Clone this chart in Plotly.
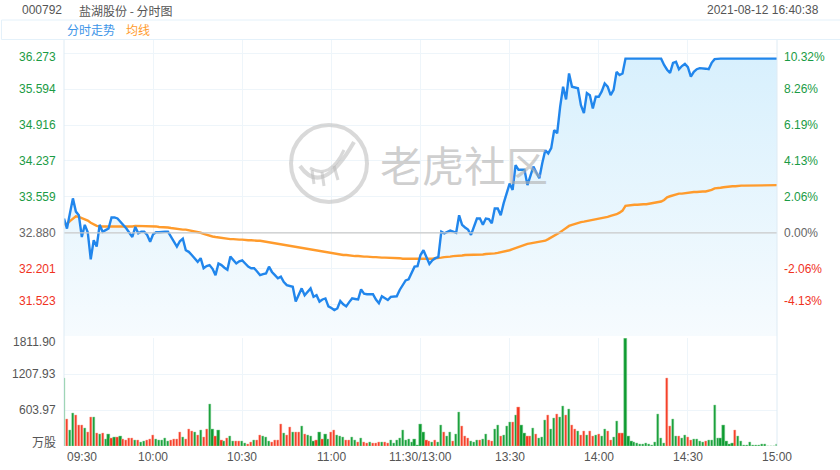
import plotly.graph_objects as go

# ---------------- data ----------------
prev_close = 32.880
price_ticks = [36.273, 35.594, 34.916, 34.237, 33.559, 32.880, 32.201, 31.523]
price_tick_text = ["36.273", "35.594", "34.916", "34.237", "33.559", "32.880", "32.201", "31.523"]
pct_tick_text = ["10.32%", "8.26%", "6.19%", "4.13%", "2.06%", "0.00%", "-2.06%", "-4.13%"]
vol_ticks = [1811.90, 1207.93, 603.97]
vol_tick_text = ["1811.90", "1207.93", "603.97"]
vol_unit = "万股"
time_pos = [0, 30, 60, 90, 120, 150, 180, 210, 240]
time_labels = ["09:30", "10:00", "10:30", "11:00", "11:30/13:00", "13:30", "14:00", "14:30", "15:00"]

price = [
    33.15, 32.96, 33.25, 33.53, 33.28, 33.21, 32.80, 33.03, 32.89, 32.38,
    32.74, 32.62, 33.03, 32.90, 32.93, 32.96, 33.17, 33.17, 33.15, 33.09,
    33.04, 32.96, 32.88, 32.80, 32.99, 32.87, 32.90, 32.90, 32.84, 32.71,
    32.85, 32.89, 32.89, 32.90, 32.90, 32.90, 32.80, 32.72, 32.62, 32.72,
    32.77, 32.55, 32.52, 32.46, 32.40, 32.33, 32.40, 32.21, 32.25, 32.27,
    32.20, 32.08, 32.30, 32.27, 32.22, 32.18, 32.43, 32.36, 32.30, 32.34,
    32.36, 32.30, 32.24, 32.21, 32.21, 32.15, 32.08, 32.10, 32.11, 32.24,
    32.14, 32.08, 32.02, 32.05, 31.95, 31.89, 31.88, 31.86, 31.58, 31.70,
    31.83, 31.70, 31.76, 31.83, 31.67, 31.70, 31.58, 31.62, 31.64, 31.49,
    31.46, 31.42, 31.45, 31.59, 31.53, 31.49, 31.57, 31.64, 31.63, 31.62,
    31.81, 31.73, 31.72, 31.72, 31.72, 31.62, 31.55, 31.68, 31.64, 31.61,
    31.67, 31.68, 31.68, 31.80, 31.88, 31.98, 32.00, 32.12, 32.24, 32.25,
    32.46, 32.55, 32.40, 32.29, 32.36, 32.40, 32.42, 32.90, 32.87, 32.90,
    32.92, 32.90, 32.88, 33.21, 33.03, 32.98, 32.94, 32.84, 33.00, 33.15,
    33.15, 33.03, 33.15, 33.14, 33.06, 33.34, 33.34, 33.21, 33.44, 33.62,
    33.81, 33.69, 34.16, 34.07, 34.07, 34.07, 33.78, 33.96, 34.13, 34.02,
    33.91, 34.20, 34.44, 34.38, 34.48, 34.82, 34.76, 35.26, 35.64, 35.40,
    35.89, 35.64, 35.62, 35.61, 35.29, 35.14, 35.52, 35.48, 35.23, 35.45,
    35.45, 35.55, 35.70, 35.64, 35.48, 35.58, 35.92, 35.86, 35.89, 36.17,
    36.17, 36.17, 36.17, 36.17, 36.17, 36.17, 36.17, 36.17, 36.17, 36.17,
    36.17, 36.17, 36.05, 35.96, 35.90, 36.09, 36.11, 35.97, 36.03, 36.07,
    36.01, 35.83, 35.92, 35.97, 35.99, 35.99, 35.98, 35.97, 36.09, 36.16,
    36.17, 36.17, 36.17, 36.17, 36.17, 36.17, 36.17, 36.17, 36.17, 36.17,
    36.17, 36.17, 36.17, 36.17, 36.17, 36.17, 36.17, 36.17, 36.17, 36.17,
    36.17,
]

avg_price = [
    33.04, 33.05, 33.10, 33.15, 33.19, 33.18, 33.16, 33.14, 33.11, 33.07,
    33.04, 33.01, 33.00, 33.00, 32.99, 32.99, 32.99, 32.99, 33.00, 33.00,
    33.00, 33.00, 33.00, 33.00, 33.01, 33.01, 33.01, 33.01, 33.00, 33.00,
    33.00, 33.00, 32.99, 32.99, 32.98, 32.98, 32.97, 32.96, 32.96, 32.95,
    32.94, 32.94, 32.93, 32.92, 32.91, 32.90, 32.88, 32.86, 32.84, 32.82,
    32.81, 32.80, 32.79, 32.78, 32.77, 32.77, 32.76, 32.76, 32.75, 32.75,
    32.75, 32.74, 32.74, 32.74, 32.73, 32.73, 32.73, 32.72, 32.72, 32.71,
    32.70, 32.69, 32.68, 32.67, 32.66, 32.65, 32.64, 32.63, 32.61, 32.60,
    32.59, 32.58, 32.57, 32.56, 32.55, 32.54, 32.53, 32.52, 32.51, 32.50,
    32.49, 32.48, 32.47, 32.47, 32.46, 32.46, 32.45, 32.45, 32.44, 32.44,
    32.43, 32.43, 32.43, 32.42, 32.42, 32.42, 32.41, 32.41, 32.41, 32.41,
    32.40, 32.40, 32.40, 32.40, 32.39, 32.39, 32.39, 32.39, 32.38, 32.38,
    32.38, 32.38, 32.39, 32.39, 32.39, 32.40, 32.40, 32.41, 32.42, 32.42,
    32.43, 32.44, 32.44, 32.45, 32.45, 32.46, 32.46, 32.46, 32.46, 32.47,
    32.47, 32.47, 32.48, 32.48, 32.49, 32.49, 32.50, 32.51, 32.52, 32.54,
    32.55, 32.57, 32.59, 32.62, 32.64, 32.66, 32.67, 32.68, 32.69, 32.70,
    32.70, 32.71, 32.73, 32.76, 32.79, 32.83, 32.86, 32.89, 32.93, 32.97,
    33.01, 33.03, 33.05, 33.07, 33.08, 33.09, 33.10, 33.11, 33.12, 33.13,
    33.15, 33.16, 33.17, 33.18, 33.20, 33.21, 33.23, 33.26, 33.30, 33.39,
    33.40, 33.40, 33.41, 33.41, 33.42, 33.42, 33.42, 33.43, 33.43, 33.44,
    33.45, 33.47, 33.50, 33.55, 33.57, 33.59, 33.61, 33.62, 33.62, 33.63,
    33.64, 33.64, 33.65, 33.65, 33.66, 33.66, 33.66, 33.67, 33.69, 33.72,
    33.72, 33.73, 33.74, 33.75, 33.75, 33.76, 33.76, 33.77, 33.77, 33.77,
    33.77, 33.78, 33.78, 33.78, 33.78, 33.78, 33.78, 33.78, 33.78, 33.78,
    33.78,
]

volume = [
    1135, 447, 268, 548, 520, 341, 349, 296, 229, 481,
    481, 213, 201, 207, 117, 196, 134, 145, 145, 168,
    117, 101, 123, 129, 101, 101, 62, 84, 101, 112,
    179, 106, 89, 101, 123, 84, 101, 112, 112, 224,
    145, 112, 280, 252, 235, 179, 268, 145, 280, 694,
    280, 157, 268, 101, 84, 129, 157, 84, 84, 84,
    73, 45, 34, 67, 95, 101, 179, 157, 145, 84,
    56, 89, 101, 364, 213, 179, 319, 224, 224, 235,
    324, 196, 185, 157, 73, 101, 224, 117, 196, 117,
    224, 268, 185, 157, 145, 89, 89, 140, 101, 67,
    134, 67, 45, 62, 45, 45, 70, 62, 56, 45,
    101, 50, 89, 123, 262, 101, 120, 70, 106, 12,
    364, 224, 101, 84, 62, 95, 56, 352, 229, 157,
    224, 78, 196, 565, 324, 168, 129, 73, 56, 101,
    89, 112, 201, 89, 78, 280, 352, 157, 185, 324,
    403, 392, 509, 646, 352, 213, 168, 168, 296, 201,
    129, 145, 436, 515, 280, 464, 531, 481, 671, 520,
    615, 347, 280, 252, 179, 252, 179, 252, 157, 179,
    196, 168, 285, 240, 89, 145, 408, 213, 213, 1806,
    168, 73, 56, 45, 28, 28, 45, 28, 17, 56,
    531, 129, 45, 1135, 324, 447, 168, 157, 129, 179,
    140, 101, 112, 112, 84, 67, 73, 101, 89, 688,
    123, 129, 341, 73, 28, 45, 268, 157, 73, 11,
    11, 56, 11, 11, 11, 22, 22, 0, 0, 0,
    28,
]

# 1 = red (up), 0 = green (down)
vol_up = [
    0, 1, 0, 0, 1, 1, 1, 0, 1, 1,
    0, 1, 0, 1, 0, 0, 1, 0, 1, 0,
    1, 1, 1, 1, 0, 1, 0, 0, 1, 1,
    1, 0, 0, 0, 0, 0, 1, 1, 1, 1,
    0, 1, 1, 1, 0, 1, 0, 1, 1, 0,
    0, 1, 0, 1, 0, 1, 0, 0, 1, 1,
    0, 0, 1, 1, 0, 1, 1, 0, 0, 0,
    1, 1, 1, 1, 0, 1, 1, 0, 1, 1,
    0, 1, 0, 0, 0, 1, 0, 1, 0, 0,
    1, 1, 0, 0, 0, 1, 1, 0, 0, 1,
    0, 1, 1, 0, 1, 1, 1, 0, 1, 1,
    0, 0, 0, 0, 0, 0, 0, 0, 0, 0,
    0, 0, 1, 1, 0, 1, 0, 0, 1, 0,
    0, 1, 0, 0, 1, 1, 1, 0, 0, 0,
    1, 0, 0, 1, 1, 0, 0, 1, 0, 0,
    0, 1, 0, 1, 0, 0, 1, 1, 0, 1,
    0, 0, 0, 1, 0, 0, 1, 0, 0, 1,
    0, 1, 1, 0, 1, 1, 0, 1, 1, 0,
    1, 0, 0, 1, 1, 0, 0, 1, 1, 0,
    0, 0, 0, 0, 0, 0, 0, 0, 0, 0,
    0, 0, 0, 1, 1, 0, 0, 1, 0, 0,
    1, 1, 0, 0, 0, 0, 1, 0, 0, 0,
    0, 0, 0, 0, 0, 0, 1, 0, 0, 0,
    0, 0, 0, 0, 0, 0, 0, 0, 0, 0,
    0,
]

minutes = list(range(len(price)))

# ---------------- styling / layout helpers ----------------
W, H = 840, 470
ML, MR = 64, 63
PW = W - ML - MR


def px(x):
    return (x - ML) / PW


def py(y):
    return 1 - y / H


FONT = "Liberation Sans, Arial, Noto Sans CJK SC, sans-serif"
CJK = "Noto Sans CJK SC, Liberation Sans, sans-serif"
GREEN_T = "#1a9b45"
RED_T = "#f0321e"
GRAY_T = "#666666"
GRID = "#eef5fa"
AXIS = "#deebf4"
BLUE = "#2186ec"
ORANGE = "#ff9b2c"
BAR_G, BAR_R = "#0d9b30", "#f5341d"
BAR_GL, BAR_RL = "#8dd39d", "#f9a293"

price_dom = [py(336), py(40)]
vol_dom = [py(446), py(338.3)]
price_range = [30.930, 36.522]

fig = go.Figure()

# gradient fill under price line
fig.add_trace(go.Scatter(
    x=minutes, y=price, mode="lines", line=dict(width=0, color="rgba(0,0,0,0)"),
    fill="tozeroy",
    fillgradient=dict(type="vertical", start=price_range[0], stop=36.17,
                      colorscale=[[0, "rgba(246,251,254,1)"], [1, "rgba(216,240,253,1)"]]),
    hoverinfo="skip", showlegend=False, xaxis="x", yaxis="y",
))
fig.add_trace(go.Scatter(
    x=minutes, y=avg_price, mode="lines", line=dict(color=ORANGE, width=2.4),
    showlegend=False, xaxis="x", yaxis="y",
))
fig.add_trace(go.Scatter(
    x=minutes, y=price, mode="lines", line=dict(color=BLUE, width=2.4),
    showlegend=False, xaxis="x", yaxis="y",
))
fig.add_trace(go.Bar(
    x=minutes, y=volume, width=0.72,
    marker=dict(color=[BAR_R if u else BAR_G for u in vol_up],
                line=dict(color=[BAR_RL if u else BAR_GL for u in vol_up], width=0.5)),
    showlegend=False, xaxis="x2", yaxis="y2",
))

xcommon = dict(range=[0, 240], tickvals=time_pos, showticklabels=False, showgrid=True,
               gridcolor=GRID, gridwidth=1, zeroline=False, showline=False, ticks="")
fig.update_layout(
    width=W, height=H, margin=dict(l=ML, r=MR, t=0, b=0),
    paper_bgcolor="white", plot_bgcolor="white", bargap=0,
    xaxis=dict(domain=[0, 1], anchor="y", **xcommon),
    xaxis2=dict(domain=[0, 1], anchor="y2", matches="x", **xcommon),
    yaxis=dict(domain=price_dom, range=price_range, tickvals=price_ticks, showticklabels=False,
               showgrid=True, gridcolor=GRID, zeroline=False, showline=False, ticks=""),
    yaxis2=dict(domain=vol_dom, range=[0, 1811.9], tickvals=vol_ticks + [0], showticklabels=False,
                showgrid=True, gridcolor=GRID, zeroline=False, showline=False, ticks=""),
    font=dict(family=FONT, size=12, color=GRAY_T),
)

shapes = []
# previous close line
shapes.append(dict(type="line", xref="paper", yref="y", x0=0, x1=1, y0=prev_close, y1=prev_close,
                   line=dict(color="#c9c9c9", width=1.2), layer="above"))
# axis lines left/right
for xx in (0, 1):
    shapes.append(dict(type="line", xref="paper", yref="paper", x0=xx, x1=xx, y0=py(446), y1=py(40),
                       line=dict(color=AXIS, width=1), layer="above"))
# header box
shapes.append(dict(type="rect", xref="paper", yref="paper", x0=px(1.5), x1=px(842), y0=py(39.5), y1=py(20),
                   line=dict(color="#e4f1fa", width=1), fillcolor="rgba(0,0,0,0)"))
# watermark logo
WM = "rgba(185,185,185,0.55)"
shapes.append(dict(type="circle", xref="paper", yref="paper", x0=px(291), x1=px(367), y0=py(202), y1=py(125),
                   line=dict(color=WM, width=4), layer="above"))


def path(pts):
    s = "M {:.5f},{:.5f}".format(px(pts[0][0]), py(pts[0][1]))
    s += " Q {:.5f},{:.5f} {:.5f},{:.5f}".format(px(pts[1][0]), py(pts[1][1]), px(pts[2][0]), py(pts[2][1]))
    return s


shapes.append(dict(type="path", xref="paper", yref="paper", path=path([(300, 166), (322, 198), (354, 142)]),
                   line=dict(color=WM, width=4), layer="above"))
shapes.append(dict(type="path", xref="paper", yref="paper", path=path([(310, 168), (330, 180), (344, 150)]),
                   line=dict(color=WM, width=3), layer="above"))
for (a, b) in [((312, 170), (314, 184)), ((322, 172), (324, 186)), ((334, 166), (338, 180))]:
    shapes.append(dict(type="line", xref="paper", yref="paper", x0=px(a[0]), y0=py(a[1]), x1=px(b[0]), y1=py(b[1]),
                       line=dict(color=WM, width=3), layer="above"))
fig.update_layout(shapes=shapes)

ann = []
n = len(price_ticks)
for k, (v, t1, t2) in enumerate(zip(price_ticks, price_tick_text, pct_tick_text)):
    col = GREEN_T if v > prev_close + 1e-6 else (RED_T if v < prev_close - 1e-6 else GRAY_T)
    ys = -4 if k == 0 else (4 if k == n - 1 else 0)
    ann.append(dict(xref="paper", yref="y", x=0, y=v, text=t1, showarrow=False, xanchor="right",
                    yanchor="middle", xshift=-6, yshift=ys, font=dict(color=col, size=12, family=FONT)))
    ann.append(dict(xref="paper", yref="y", x=1, y=v, text=t2, showarrow=False, xanchor="left",
                    yanchor="middle", xshift=5, yshift=ys, font=dict(color=col, size=12, family=FONT)))
for k, (v, t) in enumerate(zip(vol_ticks, vol_tick_text)):
    ann.append(dict(xref="paper", yref="y2", x=0, y=v, text=t, showarrow=False, xanchor="right",
                    yanchor="middle", xshift=-6, yshift=-4 if k == 0 else 0,
                    font=dict(color="#555555", size=12, family=FONT)))
ann.append(dict(xref="paper", yref="y2", x=0, y=0, text=vol_unit, showarrow=False, xanchor="right",
                yanchor="middle", xshift=-6, yshift=5, font=dict(color="#555555", size=12, family=CJK)))
for k, (p, t) in enumerate(zip(time_pos, time_labels)):
    ann.append(dict(xref="x2", yref="paper", x=p, y=py(457), text=t, showarrow=False,
                    xanchor="left" if k == 0 else "center", yanchor="middle", xshift=1 if k == 0 else 0,
                    font=dict(color="#555555", size=12, family=FONT)))
# header
ann.append(dict(xref="paper", yref="paper", x=px(20), y=py(10.5), text="000792", showarrow=False,
                xanchor="left", yanchor="middle", font=dict(color="#555555", size=12, family=FONT)))
ann.append(dict(xref="paper", yref="paper", x=px(77), y=py(10.5), text="盐湖股份 - 分时图", showarrow=False,
                xanchor="left", yanchor="middle", font=dict(color="#555555", size=12, family=CJK)))
ann.append(dict(xref="paper", yref="paper", x=px(821), y=py(10.5), text="2021-08-12 16:40:38", showarrow=False,
                xanchor="right", yanchor="middle", font=dict(color="#555555", size=12, family=FONT)))
ann.append(dict(xref="paper", yref="paper", x=px(65), y=py(29.5), text="分时走势", showarrow=False,
                xanchor="left", yanchor="middle", font=dict(color="#3d95e8", size=12, family=CJK)))
ann.append(dict(xref="paper", yref="paper", x=px(124), y=py(29.5), text="均线", showarrow=False,
                xanchor="left", yanchor="middle", font=dict(color=ORANGE, size=12, family=CJK)))
# watermark text
ann.append(dict(xref="paper", yref="paper", x=px(464), y=py(163), text="老虎社区", showarrow=False,
                xanchor="center", yanchor="middle", font=dict(color="rgba(175,175,175,0.6)", size=42, family=CJK)))
fig.update_layout(annotations=ann)

fig.write_html("out.html", config={"displayModeBar": False},
               post_script="document.body.style.margin='0';document.body.style.overflow='hidden';")
